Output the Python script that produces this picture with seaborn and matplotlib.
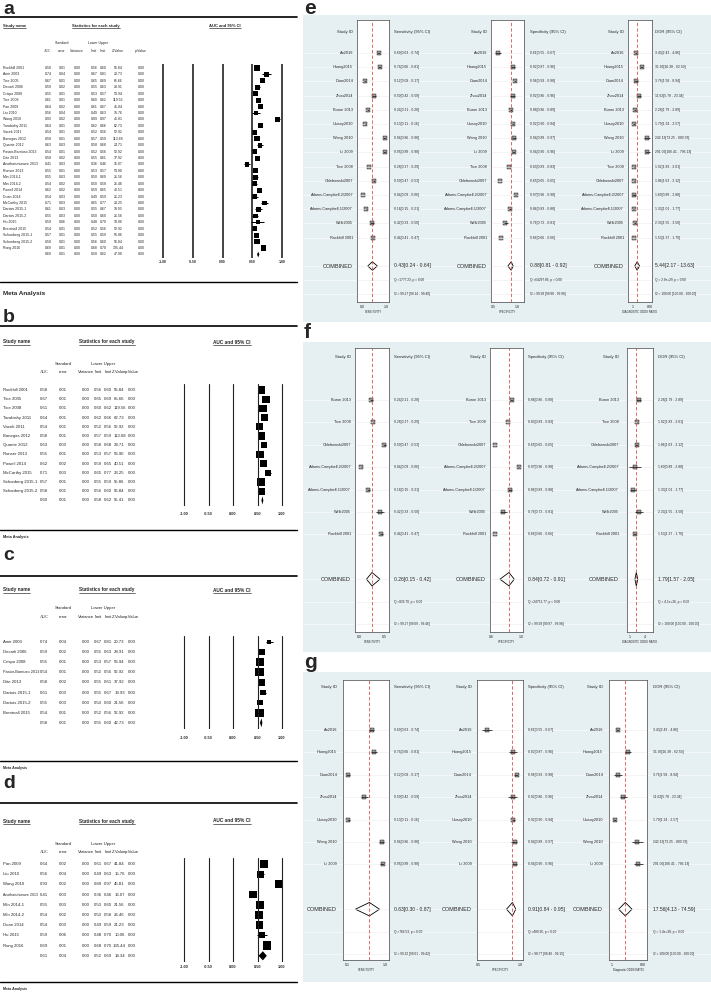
import numpy as np
import pandas as pd
import matplotlib
matplotlib.use("Agg")
import matplotlib.pyplot as plt
from matplotlib.lines import Line2D
from matplotlib.ticker import NullLocator
from matplotlib import font_manager
import seaborn as sns

# ---------------- AUC meta-analysis tables (panels a-d) ----------------
a_names = ["Rockhill 2001", "Amir 2003", "Tice 2005", "Decarli 2006", "Crispo 2008", "Tice 2008",
           "Pan 2009", "Liu 2010", "Wang 2010", "Tarabishy 2011", "Vacek 2011", "Banegas 2012",
           "Quante 2012", "Pastor-Barriuso 2013", "Dite 2013", "Anothaisintawee 2013", "Ronser 2013",
           "Min 2014-1", "Min 2014-2", "Powell 2014", "Duan 2014", "McCarthy 2015", "Dartois 2015-1",
           "Dartois 2015-2", "Hu 2015", "Brentnall 2015", "Schonberg 2015-1", "Schonberg 2015-2", "Rong 2016"]
a_auc = [0.58, 0.74, 0.67, 0.59, 0.55, 0.61, 0.64, 0.56, 0.93, 0.64, 0.54, 0.58, 0.63, 0.54, 0.58,
         0.41, 0.55, 0.55, 0.54, 0.62, 0.54, 0.71, 0.61, 0.55, 0.59, 0.54, 0.57, 0.58, 0.69]
a_se = [0.01, 0.04, 0.01, 0.02, 0.01, 0.01, 0.02, 0.04, 0.02, 0.01, 0.01, 0.01, 0.03, 0.01, 0.02,
        0.03, 0.01, 0.03, 0.02, 0.02, 0.03, 0.03, 0.03, 0.03, 0.06, 0.01, 0.01, 0.01, 0.01]
a_var = [0.00, 0.00, 0.00, 0.00, 0.00, 0.00, 0.00, 0.00, 0.00, 0.00, 0.00, 0.00, 0.00, 0.00, 0.00,
         0.00, 0.00, 0.00, 0.00, 0.00, 0.00, 0.00, 0.00, 0.00, 0.00, 0.00, 0.00, 0.00, 0.00]
a_lower = [0.56, 0.67, 0.65, 0.55, 0.53, 0.60, 0.61, 0.49, 0.89, 0.62, 0.52, 0.57, 0.58, 0.52, 0.55,
           0.36, 0.53, 0.50, 0.50, 0.59, 0.49, 0.65, 0.55, 0.50, 0.48, 0.52, 0.55, 0.56, 0.68]
a_upper = [0.60, 0.81, 0.69, 0.63, 0.57, 0.62, 0.67, 0.63, 0.97, 0.66, 0.56, 0.59, 0.68, 0.56, 0.61,
           0.46, 0.57, 0.60, 0.58, 0.65, 0.59, 0.77, 0.67, 0.60, 0.70, 0.56, 0.59, 0.60, 0.70]
a_z = [56.84, 20.73, 65.66, 28.91, 53.94, 119.56, 41.84, 15.76, 45.81, 62.73, 52.92, 113.68, 24.71,
       52.92, 37.92, 16.07, 53.90, 21.56, 26.46, 40.51, 21.23, 23.25, 19.93, 21.56, 10.06, 52.92,
       55.86, 56.84, 135.44]
a_p = [0.00, 0.00, 0.00, 0.00, 0.00, 0.00, 0.00, 0.00, 0.00, 0.00, 0.00, 0.00, 0.00, 0.00, 0.00,
       0.00, 0.00, 0.00, 0.00, 0.00, 0.00, 0.00, 0.00, 0.00, 0.00, 0.00, 0.00, 0.00, 0.00]

b_names = ["Rockhill 2001", "Tice 2005", "Tice 2008", "Tarabishy 2011", "Vacek 2011", "Banegas 2012",
           "Quante 2012", "Ronser 2013", "Powell 2014", "McCarthy 2015", "Schonberg 2015-1", "Schonberg 2015-2"]
c_names = ["Amir 2003", "Decarli 2006", "Crispo 2008", "Pastor-Barriuso 2013", "Dite 2013",
           "Dartois 2015-1", "Dartois 2015-2", "Brentnall 2015"]
d_names = ["Pan 2009", "Liu 2010", "Wang 2010", "Anothaisintawee 2013", "Min 2014-1", "Min 2014-2",
           "Duan 2014", "Hu 2015", "Rong 2016"]

# summary rows: AUC, SE, variance, lower, upper, Z, p
a_summary = [0.60, 0.01, 0.00, 0.58, 0.62, 47.98, 0.00]
b_summary = [0.60, 0.01, 0.00, 0.58, 0.62, 55.41, 0.00]
c_summary = [0.58, 0.01, 0.00, 0.55, 0.60, 42.73, 0.00]
d_summary = [0.61, 0.04, 0.00, 0.52, 0.69, 14.34, 0.00]

# ---------------- diagnostic accuracy forests (panels e-g) ----------------
e_ids = ["An2016", "Huang2015", "Duan2014", "Zhou2014", "Buron 2013", "Ulusoy2010", "Wang 2010",
         "Li 2009", "Tice 2008", "Chlebowski2007", "Adams-Campbell-2/2007", "Adams-Campbell-1/2007",
         "Welk2005", "Rockhill 2001"]
sens = [0.69, 0.74, 0.12, 0.50, 0.24, 0.13, 0.94, 0.95, 0.28, 0.50, 0.04, 0.18, 0.42, 0.44]
sens_lo = [0.63, 0.66, 0.08, 0.42, 0.21, 0.11, 0.86, 0.89, 0.27, 0.47, 0.03, 0.15, 0.33, 0.41]
sens_hi = [0.74, 0.81, 0.17, 0.59, 0.28, 0.16, 0.98, 0.98, 0.29, 0.53, 0.06, 0.21, 0.50, 0.47]
spec = [0.61, 0.92, 0.96, 0.92, 0.88, 0.92, 0.94, 0.94, 0.83, 0.65, 0.97, 0.86, 0.76, 0.66]
spec_lo = [0.55, 0.87, 0.93, 0.86, 0.86, 0.90, 0.89, 0.90, 0.83, 0.65, 0.96, 0.83, 0.72, 0.66]
spec_hi = [0.67, 0.96, 0.98, 0.96, 0.89, 0.94, 0.97, 0.96, 0.83, 0.65, 0.98, 0.88, 0.81, 0.66]
dor = [3.43, 31.99, 3.76, 11.62, 2.28, 1.79, 242.13, 291.06, 1.92, 1.86, 1.60, 1.33, 2.33, 1.53]
dor_lo = [2.43, 16.38, 1.58, 5.78, 1.79, 1.24, 73.25, 106.41, 1.83, 1.63, 0.89, 1.01, 1.55, 1.37]
dor_hi = [4.86, 62.50, 8.94, 23.34, 2.89, 2.57, 800.33, 796.13, 2.01, 2.12, 2.88, 1.77, 3.50, 1.70]

f_ids = ["Buron 2013", "Tice 2008", "Chlebowski2007", "Adams-Campbell-2/2007", "Adams-Campbell-1/2007",
         "Welk2005", "Rockhill 2001"]
g_ids = ["An2016", "Huang2015", "Duan2014", "Zhou2014", "Ulusoy2010", "Wang 2010", "Li 2009"]

# pooled estimate [lower, upper] for sensitivity, specificity, DOR
e_combined = [(0.43, 0.24, 0.64), (0.88, 0.81, 0.92), (5.44, 2.17, 13.63)]
f_combined = [(0.26, 0.15, 0.42), (0.84, 0.72, 0.91), (1.79, 1.57, 2.05)]
g_combined = [(0.63, 0.30, 0.87), (0.91, 0.84, 0.95), (17.56, 4.13, 74.59)]
e_q = ["Q =1777.23, p = 0.00", "Q =64297.86, p = 0.00", "Q = 2.9e+29, p = 0.00"]
f_q = ["Q =826.70, p = 0.00", "Q =24751.77, p = 0.00", "Q = 4.1e+26, p = 0.00"]
g_q = ["Q =766.53, p = 0.00", "Q =489.26, p = 0.00", "Q = 1.4e+38, p = 0.00"]
e_i2 = ["I2 = 99.27 [99.14 - 99.40]", "I2 = 99.98 [99.98 - 99.98]", "I2 = 100.00 [100.00 - 100.00]"]
f_i2 = ["I2 = 99.27 [99.09 - 99.46]", "I2 = 99.98 [99.97 - 99.98]", "I2 = 100.00 [100.00 - 100.00]"]
g_i2 = ["I2 = 99.22 [99.01 - 99.42]", "I2 = 98.77 [98.40 - 99.15]", "I2 = 100.00 [100.00 - 100.00]"]

# ---------------- style ----------------
sns.set_style("white")
avail = {f.name for f in font_manager.fontManager.ttflist}
if "Liberation Sans Narrow" in avail:
    FONT, K = "Liberation Sans Narrow", 1.2
else:
    FONT, K = "Liberation Sans", 1.0
plt.rcParams["font.family"] = [FONT, "DejaVu Sans"]
BG = "#e6eff1"

W, H = 711, 992
fig = plt.figure(figsize=(W / 100, H / 100), dpi=100)
fig.patch.set_facecolor("white")
renderer = fig.canvas.get_renderer()


def px(x0, y0, x1, y1):
    # pixel box (top-left origin) -> figure fraction rect
    return [x0 / W, 1 - y1 / H, (x1 - x0) / W, (y1 - y0) / H]


def ftext(x, y, s, **kw):
    kw.setdefault("va", "center")
    return fig.text(x / W, 1 - y / H, s, **kw)


def fline(x0, x1, y, lw=1.0):
    fig.add_artist(Line2D([x0 / W, x1 / W], [1 - y / H, 1 - y / H], lw=lw, color="black"))


def underline(t, lw=0.4):
    bb = t.get_window_extent(renderer)
    fline(bb.x0, bb.x1, H - bb.y0 + 0.3, lw=lw)


def fit_right(t, limit):
    # shrink a text until its right edge stays left of limit (pixels)
    while t.get_window_extent(renderer).x1 > limit and t.get_fontsize() > 1.5:
        t.set_fontsize(t.get_fontsize() * 0.95)


cma_cols = ["auc", "se", "var", "lower", "upper", "z", "p"]
auc_table = pd.DataFrame({"auc": a_auc, "se": a_se, "var": a_var, "lower": a_lower,
                          "upper": a_upper, "z": a_z, "p": a_p}, index=a_names)

acc_table = pd.DataFrame({"sens": sens, "sens_lo": sens_lo, "sens_hi": sens_hi,
                          "spec": spec, "spec_lo": spec_lo, "spec_hi": spec_hi,
                          "dor": dor, "dor_lo": dor_lo, "dor_hi": dor_hi}, index=e_ids)


def cma_panel(letter, tab, summ, g):
    n = len(tab)
    fs = g["fs"] * K
    hfs = g["hfs"] * K
    c = g["cols"]
    ftext(3, g["letter"], letter, fontsize=14, fontweight="bold", family="Liberation Sans")
    fline(0, 297, g["top"], lw=1.2)
    fline(0, 297, g["bottom"], lw=1.0)
    t = ftext(3, g["head"], "Study name", fontsize=hfs, fontweight="bold")
    underline(t)
    t = ftext(g["stat_x"], g["head"], "Statistics for each study", fontsize=hfs, fontweight="bold", ha="center")
    underline(t)
    t = ftext(g["ci_x"], g["head"], "AUC and 95% CI", fontsize=hfs, fontweight="bold", ha="center")
    underline(t)
    ftext(c[1], g["h1"], "Standard", fontsize=fs, ha="center")
    ftext((c[3] + c[4]) / 2, g["h1"], "Lower Upper", fontsize=fs, ha="center")
    for x, s in zip(c, ["AUC", "error", "Variance", "limit", "limit", "Z-Value", "p-Value"]):
        if s == "AUC":
            ftext(x, g["h2"], s, fontsize=fs, ha="center", family="Liberation Serif")
        else:
            ftext(x, g["h2"], s, fontsize=fs, ha="center")
    ftext(3, g["meta"], "Meta Analysis", fontsize=g["meta_fs"] * K, fontweight="bold")

    y_top = g["row0"] - 0.6 * g["step"]
    y_bot = g["row0"] + (n + 0.6) * g["step"]

    # table columns
    ax_t = fig.add_axes(px(0, y_top, 160, y_bot))
    ax_t.set_xlim(0, 160)
    ax_t.set_ylim(n + 0.6, -0.6)
    ax_t.axis("off")
    for i, (name, rec) in enumerate(tab.iterrows()):
        first = None
        for x, col in zip(c, cma_cols):
            tt = ax_t.text(x, i, f"{rec[col]:.2f}", fontsize=fs, va="center", ha="center")
            if first is None:
                first = tt
        nt = ax_t.text(3, i, name, fontsize=fs, va="center", ha="left")
        fit_right(nt, first.get_window_extent(renderer).x0 - 0.6)
    for x, v in zip(c, summ):
        ax_t.text(x, n, f"{v:.2f}", fontsize=fs, va="center", ha="center")

    # forest column
    unit = (g["xp1"] - g["xm1"]) / 2.0
    pad = 0.08
    ax_f = fig.add_axes(px(g["xm1"] - pad * unit, y_top, g["xp1"] + pad * unit, y_bot))
    ax_f.patch.set_alpha(0)
    ticks = [-1, -0.5, 0, 0.5, 1]
    for tk in ticks:
        ax_f.axvline(tk, color="#222222", lw=g["vlw"])
    rows = np.arange(n)
    w = 1.0 / (tab["se"].values ** 2 + g["t2"])
    sizes = g["smax"] * w / w.max()
    ax_f.hlines(rows, tab["lower"], tab["upper"], color="black", lw=0.7)
    sns.scatterplot(x=tab["auc"].values, y=rows, s=sizes, marker="s", color="black",
                    linewidth=0, ax=ax_f, legend=False)
    est, lo, hi = summ[0], summ[3], summ[4]
    ax_f.fill([lo, est, hi, est], [n, n - 0.45, n, n + 0.45], color="black", lw=0)
    ax_f.set_xlim(-1 - pad, 1 + pad)
    ax_f.set_ylim(n + 0.6, -0.6)
    ax_f.set_xticks(ticks)
    ax_f.set_xticklabels([f"{tk:.2f}" for tk in ticks], fontsize=g["tfs"] * K, fontweight="bold")
    pad_px = g["tick"] - y_bot - 0.5 * g["tfs"] * K * 1.39
    ax_f.tick_params(axis="x", length=0, pad=max(pad_px, 0) * 0.72)
    ax_f.set_yticks([])
    ax_f.set_xlabel("")
    ax_f.set_ylabel("")
    for sp in ax_f.spines.values():
        sp.set_visible(False)


def stata_panel(letter, tab, combined, qs, i2s, g):
    n = len(tab)
    rows = np.arange(n)

    def r(y):
        return (y - g["row0"]) / g["step"]

    ftext(304, g["letter"], letter, fontsize=15, fontweight="bold", family="Liberation Sans")
    b0, b1 = g["bg"]
    ax_o = fig.add_axes(px(303, b0, 711, b1))
    ax_o.set_facecolor(BG)
    ax_o.set_xlim(303, 711)
    ax_o.set_ylim(r(b1), r(b0))
    ax_o.set_xticks([])
    ax_o.set_yticks([])
    for sp in ax_o.spines.values():
        sp.set_visible(False)
    grid = list(rows) + [n + 1, n + 2, n + 3]
    ax_o.hlines(grid, 303, 711, color="white", lw=0.5, alpha=0.8)
    head = r(g["head"])

    metrics = [("sens", "Sensitivity (95% CI)", g["xlabels"][0], False),
               ("spec", "Specificity (95% CI)", g["xlabels"][1], False),
               ("dor", "DOR (95% CI)", g["xlabels"][2], True)]
    for k, (col, header, xlabel, logx) in enumerate(metrics):
        x0, x1 = g["boxes"][k]
        idr = g["id_right"][k]
        tx = g["text_x"][k]
        ce, cl, ch = combined[k]

        ax_o.text(idr, head, "Study ID", ha="right", va="center", fontsize=3.0 * K)
        for i, s in enumerate(tab.index):
            ax_o.text(idr, i, s, ha="right", va="center", fontsize=2.8 * K)
        ax_o.text(idr, n + 1, "COMBINED", ha="right", va="center", fontsize=4.0 * K)
        ax_o.text(tx, head, header, ha="left", va="center", fontsize=3.0 * K)
        for i, (e, l, h) in enumerate(zip(tab[col], tab[col + "_lo"], tab[col + "_hi"])):
            ax_o.text(tx, i, f"{e:.2f}[{l:.2f} - {h:.2f}]", ha="left", va="center", fontsize=2.4 * K)
        ax_o.text(tx, n + 1, f"{ce:.2f}[{cl:.2f} - {ch:.2f}]", ha="left", va="center", fontsize=3.6 * K)
        ax_o.text(tx, n + 2, qs[k], ha="left", va="center", fontsize=2.3 * K)
        ax_o.text(tx, n + 3, i2s[k], ha="left", va="center", fontsize=2.3 * K)

        ax_b = fig.add_axes(px(x0, g["box"][0], x1, g["box"][1]))
        ax_b.set_facecolor("white")
        if logx:
            ax_b.set_xscale("log")
        xlim = g["xlims"][k]
        ax_b.hlines(grid, xlim[0], xlim[1], color="#ececec", lw=0.4)
        ax_b.axvline(ce, color="#d9534f", ls=(0, (4, 2.5)), lw=0.6)
        ax_b.hlines(rows, tab[col + "_lo"], tab[col + "_hi"], color="black", lw=0.5)
        sns.scatterplot(x=tab[col].values, y=rows, marker="s", s=g["ms"], color="#9a9a9a",
                        edgecolor="black", linewidth=0.3, ax=ax_b, legend=False)
        ax_b.fill([cl, ce, ch, ce], [n + 1, n + 0.7, n + 1, n + 1.3],
                  facecolor="white", edgecolor="black", lw=0.6)
        ax_b.set_xlim(*xlim)
        ax_b.set_ylim(r(g["box"][1]), r(g["box"][0]))
        ax_b.set_yticks([])
        ax_b.set_xticks(g["ticks"][k])
        ax_b.set_xticklabels(g["ticklabels"][k], fontsize=2.6 * K)
        ax_b.xaxis.set_minor_locator(NullLocator())
        ax_b.tick_params(axis="x", length=1.5, width=0.4, pad=0.8)
        ax_b.set_xlabel(xlabel, fontsize=2.0 * K, labelpad=0.8)
        ax_b.set_ylabel("")
        for sp in ax_b.spines.values():
            sp.set_linewidth(0.5)
            sp.set_color("#444444")


geo_a = dict(letter=9, top=17, head=26, h1=43, h2=51, row0=68, step=6.43, tick=262, bottom=282,
             meta=293, meta_fs=4.6, xm1=163, xp1=282, cols=[48, 62, 77, 94, 103, 118, 141],
             stat_x=96, ci_x=225, fs=2.5, hfs=3.0, tfs=2.5, smax=14, t2=0.004, vlw=1.2)
geo_b = dict(letter=318, top=326, head=342, h1=364, h2=372, row0=390, step=9.2, tick=514, bottom=530,
             meta=537, meta_fs=2.8, xm1=184, xp1=282, cols=[44, 63, 86, 98, 108, 119.5, 132],
             stat_x=107, ci_x=232, fs=3.1, hfs=3.4, tfs=2.8, smax=28, t2=0.002, vlw=0.8)
geo_c = dict(geo_b, letter=555, top=576, head=590, h1=608, h2=617, row0=642, step=10.1, tick=738,
             bottom=761, meta=768, meta_fs=2.6, smax=34, t2=0.0005)
geo_d = dict(geo_b, letter=784, top=803, head=821, h1=844, h2=852, row0=864, step=10.2, tick=967,
             bottom=982, meta=989, meta_fs=2.6, smax=36, t2=0.004)

cma_panel("a", auc_table.loc[a_names], a_summary, geo_a)
cma_panel("b", auc_table.loc[b_names], b_summary, geo_b)
cma_panel("c", auc_table.loc[c_names], c_summary, geo_c)
cma_panel("d", auc_table.loc[d_names], d_summary, geo_d)

geo_e = dict(letter=8, bg=(15, 322), row0=53, step=14.2, box=(20, 302), head=32, ms=5,
             boxes=[(357, 389), (491, 524), (628, 652)], id_right=[353, 487, 624],
             text_x=[394, 530, 655],
             xlims=[(-0.21, 1.125), (0.458, 1.146), (0.156, 1700)],
             ticks=[[0, 1], [0.5, 1.0], [1, 800]],
             ticklabels=[["0.0", "1.0"], ["0.5", "1.0"], ["1", "800"]],
             xlabels=["SENSITIVITY", "SPECIFICITY", "DIAGNOSTIC ODDS RATIO"])
geo_f = dict(letter=333, bg=(342, 652), row0=400, step=22.4, box=(348, 632), head=357, ms=6,
             boxes=[(355, 389), (490, 523), (627, 653)], id_right=[351, 486, 619],
             text_x=[394, 528, 658],
             xlims=[(-0.08, 0.6), (0.587, 1.027), (0.75, 8.5)],
             ticks=[[0, 0.5], [0.6, 1.0], [1, 4]],
             ticklabels=[["0.0", "0.5"], ["0.6", "1.0"], ["1", "4"]],
             xlabels=["SENSITIVITY", "SPECIFICITY", "DIAGNOSTIC ODDS RATIO"])
geo_g = dict(letter=662, bg=(672, 982), row0=730, step=22.4, box=(680, 960), head=687, ms=6,
             boxes=[(343, 389), (477, 523), (609, 647)], id_right=[337, 472, 603],
             text_x=[394, 528, 653],
             xlims=[(0.005, 1.095), (0.488, 1.036), (0.52, 1894)],
             ticks=[[0.1, 1.0], [0.5, 1.0], [1, 800]],
             ticklabels=[["0.1", "1.0"], ["0.5", "1.0"], ["1", "800"]],
             xlabels=["SENSITIVITY", "SPECIFICITY", "Diagnostic ODDS RATIO"])

stata_panel("e", acc_table.loc[e_ids], e_combined, e_q, e_i2, geo_e)
stata_panel("f", acc_table.loc[f_ids], f_combined, f_q, f_i2, geo_f)
stata_panel("g", acc_table.loc[g_ids], g_combined, g_q, g_i2, geo_g)

fig.savefig("out.png", dpi=100, facecolor="white")
